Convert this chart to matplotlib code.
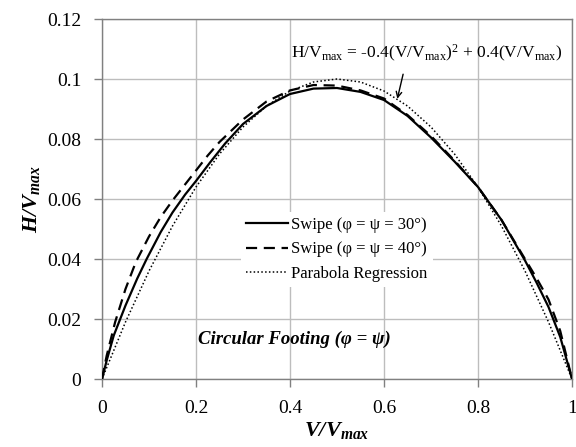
import matplotlib
matplotlib.use("Agg")
import matplotlib.pyplot as plt

plt.rcParams['font.family'] = ['Liberation Serif', 'DejaVu Serif']
plt.rcParams['mathtext.fontset'] = 'custom'
plt.rcParams['mathtext.rm'] = 'Liberation Serif'
plt.rcParams['mathtext.it'] = 'Liberation Serif:italic'
plt.rcParams['mathtext.bf'] = 'Liberation Serif:bold'
plt.rcParams['mathtext.bfit'] = 'Liberation Serif:italic:bold'

# Swipe (phi = psi = 30 deg)
x30 = [0.0, 0.01, 0.025, 0.05, 0.075, 0.095, 0.125, 0.15, 0.177, 0.2, 0.23, 0.262, 0.3, 0.35, 0.4, 0.45,
       0.5, 0.55, 0.6, 0.65, 0.7, 0.75, 0.8, 0.85, 0.9, 0.925, 0.95, 0.975, 1.0]
y30 = [0.0, 0.0062, 0.0145, 0.0245, 0.0335, 0.040, 0.049, 0.0555, 0.0615, 0.066, 0.0722, 0.0785, 0.0850, 0.0910, 0.0950, 0.0968,
       0.0970, 0.0957, 0.0930, 0.0877, 0.0805, 0.0725, 0.064, 0.0530, 0.0395, 0.0320, 0.0240, 0.0140, 0.0]
# Swipe (phi = psi = 40 deg)
x40 = [0.0, 0.01, 0.028, 0.05, 0.072, 0.1, 0.125, 0.15, 0.175, 0.2, 0.225, 0.25, 0.3, 0.35, 0.4, 0.45,
       0.5, 0.55, 0.6, 0.65, 0.7, 0.75, 0.8, 0.85, 0.9, 0.925, 0.95, 0.975, 1.0]
y40 = [0.0, 0.0078, 0.019, 0.030, 0.039, 0.0475, 0.054, 0.0595, 0.0645, 0.0695, 0.0745, 0.0790, 0.0865, 0.0925, 0.0962, 0.0980,
       0.0978, 0.0962, 0.0935, 0.0880, 0.0810, 0.0728, 0.064, 0.0530, 0.0400, 0.0335, 0.0265, 0.0160, 0.0]
# Parabola regression
xp = [0.0, 0.05, 0.1, 0.15, 0.2, 0.25, 0.3, 0.35, 0.4, 0.45, 0.5,
      0.55, 0.6, 0.65, 0.7, 0.75, 0.8, 0.85, 0.9, 0.95, 1.0]
yp = [0.0, 0.019, 0.036, 0.051, 0.064, 0.075, 0.084, 0.091, 0.096, 0.099, 0.100,
      0.099, 0.096, 0.091, 0.084, 0.075, 0.064, 0.051, 0.036, 0.019, 0.0]

xticks = [0, 0.2, 0.4, 0.6, 0.8, 1]
xticklabels = ['0', '0.2', '0.4', '0.6', '0.8', '1']
yticks = [0, 0.02, 0.04, 0.06, 0.08, 0.1, 0.12]
yticklabels = ['0', '0.02', '0.04', '0.06', '0.08', '0.1', '0.12']

fig = plt.figure(figsize=(5.76, 4.47), dpi=100)
ax = fig.add_axes([102/576, 1-379/447, 470/576, 360/447])

ax.plot(x30, y30, color='black', lw=1.6, ls='-', label='Swipe (φ = ψ = 30°)', zorder=3)
ax.plot(x40, y40, color='black', lw=1.6, ls=(0, (5, 3)), label='Swipe (φ = ψ = 40°)', zorder=3)
ax.plot(xp, yp, color='black', lw=1.1, ls=(0, (1, 1.5)), label='Parabola Regression', zorder=3)

ax.set_xlim(0, 1)
ax.set_ylim(0, 0.12)
ax.set_xticks(xticks)
ax.set_xticklabels(xticklabels)
ax.set_yticks(yticks)
ax.set_yticklabels(yticklabels)
ax.tick_params(direction='out', length=6, width=1, color='#808080', labelsize=14, pad=9)
ax.grid(True, color='#bdbdbd', lw=1)
ax.set_axisbelow(True)
for s in ax.spines.values():
    s.set_color('#808080')
    s.set_linewidth(1)

ax.text(0.5, -0.142, r'$\mathbfit{V/V}_{\mathbfit{max}}$', fontsize=16, ha='center', va='center',
        transform=ax.transAxes)
ax.text(-0.151, 0.5, r'$\mathbfit{H/V}_{\mathbfit{max}}$', fontsize=16, ha='center', va='center',
        rotation=90, transform=ax.transAxes)

leg = ax.legend(loc='center', bbox_to_anchor=(0.50, 0.36), frameon=True, fontsize=12,
                handlelength=2.5, handletextpad=0.2, labelspacing=0.5, borderpad=0.3)
leg.get_frame().set_edgecolor('none')
leg.get_frame().set_facecolor('white')
leg.get_frame().set_alpha(1)

ax.text(0.69, 0.1085, r'H/V$_{\rm max}$ = -0.4(V/V$_{\rm max}$)$^2$ + 0.4(V/V$_{\rm max}$)',
        fontsize=12.5, ha='center', va='center')
ax.annotate('', xy=(0.627, 0.0925), xytext=(0.642, 0.1025),
            arrowprops=dict(arrowstyle='->', color='black', lw=1))

ax.text(0.41, 0.0133, 'Circular Footing (φ = ψ)', fontsize=13.5, fontweight='bold',
        fontstyle='italic', ha='center', va='center')

fig.savefig('out.png', dpi=100)
